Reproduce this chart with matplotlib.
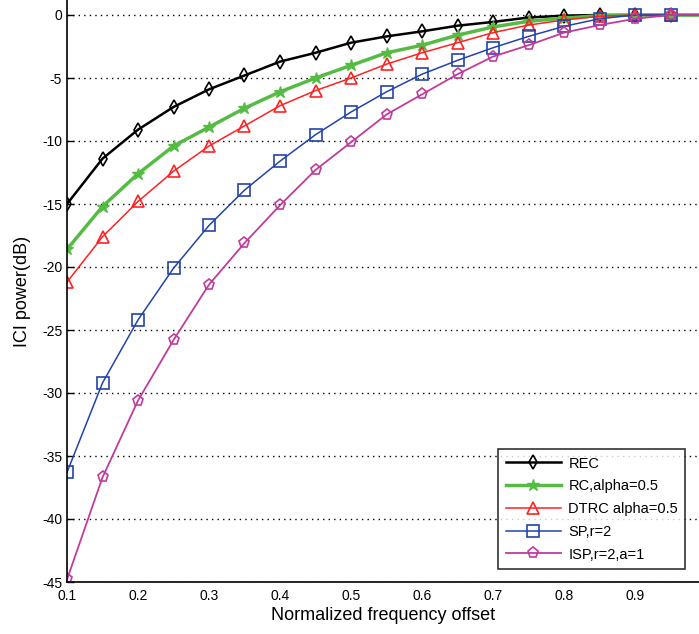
import matplotlib
matplotlib.use("Agg")
import matplotlib.pyplot as plt

# ---- data ----
offset = [0.10, 0.15, 0.20, 0.25, 0.30, 0.35, 0.40, 0.45, 0.50, 0.55,
          0.60, 0.65, 0.70, 0.75, 0.80, 0.85, 0.90, 0.95, 1.00]
rec = [-15.0, -11.4, -9.1, -7.3, -5.9, -4.8, -3.7, -3.0, -2.2, -1.7,
       -1.3, -0.85, -0.55, -0.2, -0.05, 0.0, 0.0, 0.0, 0.0]
rc = [-18.6, -15.2, -12.6, -10.4, -8.9, -7.4, -6.1, -5.0, -4.0, -3.0,
      -2.4, -1.6, -0.95, -0.5, -0.25, -0.05, 0.0, 0.0, 0.0]
dtrc = [-21.2, -17.6, -14.8, -12.4, -10.4, -8.8, -7.2, -6.0, -5.0, -3.9,
        -3.0, -2.2, -1.4, -0.8, -0.4, -0.1, 0.0, 0.0, 0.0]
sp = [-36.3, -29.2, -24.2, -20.1, -16.7, -13.9, -11.6, -9.5, -7.7, -6.1,
      -4.7, -3.6, -2.6, -1.7, -0.9, -0.3, 0.0, 0.0, 0.0]
isp = [-44.8, -36.7, -30.6, -25.8, -21.4, -18.1, -15.1, -12.3, -10.1, -7.9,
       -6.3, -4.7, -3.3, -2.4, -1.4, -0.8, -0.3, 0.0, 0.0]
labels = ["REC", "RC,alpha=0.5", "DTRC alpha=0.5", "SP,r=2", "ISP,r=2,a=1"]

xtick_vals = [0.1, 0.2, 0.3, 0.4, 0.5, 0.6, 0.7, 0.8, 0.9]
xtick_labels = ["0.1", "0.2", "0.3", "0.4", "0.5", "0.6", "0.7", "0.8", "0.9"]
xgrid_vals = [0.2, 0.4, 0.6, 0.8]
ytick_vals = [0, -5, -10, -15, -20, -25, -30, -35, -40, -45]

plt.rcParams['font.family'] = ['Liberation Sans', 'DejaVu Sans']

fig = plt.figure(figsize=(6.99, 6.34), dpi=100)
ax = fig.add_axes([67/699, 52/634, 1 - 67/699, 1 - 52/634])

styles = [
    dict(color="black", marker="d", lw=1.8, ms=7, mfc="none", mew=1.2),
    dict(color="#55bb44", marker="*", lw=2.5, ms=9, mfc="#55bb44", mew=1.0),
    dict(color="#ff2222", marker="^", lw=1.1, ms=8, mfc="none", mew=1.2),
    dict(color="#2244aa", marker="s", lw=1.1, ms=8, mfc="none", mew=1.2),
    dict(color="#c03c9c", marker="p", lw=1.3, ms=8, mfc="none", mew=1.2),
]
for ys, lab, st in zip([rec, rc, dtrc, sp, isp], labels, styles):
    ax.plot(offset, ys, label=lab, clip_on=True, **st)

ax.set_xlim(0.1, 0.1 + 632/710)
ax.set_ylim(-45, 15/12.6)

ax.set_xticks(xtick_vals)
ax.set_xticklabels(xtick_labels)
ax.set_xticks(xgrid_vals, minor=True)
ax.set_yticks(ytick_vals)
ax.set_yticklabels([str(v) for v in ytick_vals])

ax.tick_params(axis="x", which="major", length=0, labelsize=10, pad=5)
ax.tick_params(axis="x", which="minor", direction="in", length=5, width=1)
ax.tick_params(axis="y", which="major", direction="in", length=5, width=1, labelsize=10)

ax.grid(False)
dot = (0, (1, 3))
ax.grid(True, axis="x", which="minor", linestyle=dot, color="black", lw=1.0)
ax.grid(True, axis="y", which="major", linestyle=dot, color="black", lw=1.0)

for s in ["top", "right"]:
    ax.spines[s].set_visible(False)
for s in ["left", "bottom"]:
    ax.spines[s].set_linewidth(1.2)

ax.set_xlabel("Normalized frequency offset", fontsize=13, labelpad=3)
ax.set_ylabel("ICI power(dB)", fontsize=13, labelpad=8)

leg = ax.legend(loc="lower right", bbox_to_anchor=(0.99, 0.01), fontsize=10.5,
                frameon=True, fancybox=False, edgecolor="black",
                handlelength=3.8, borderpad=0.5, labelspacing=0.6,
                handletextpad=0.5)
leg.get_frame().set_linewidth(1.2)

fig.savefig("out.png", dpi=100)
